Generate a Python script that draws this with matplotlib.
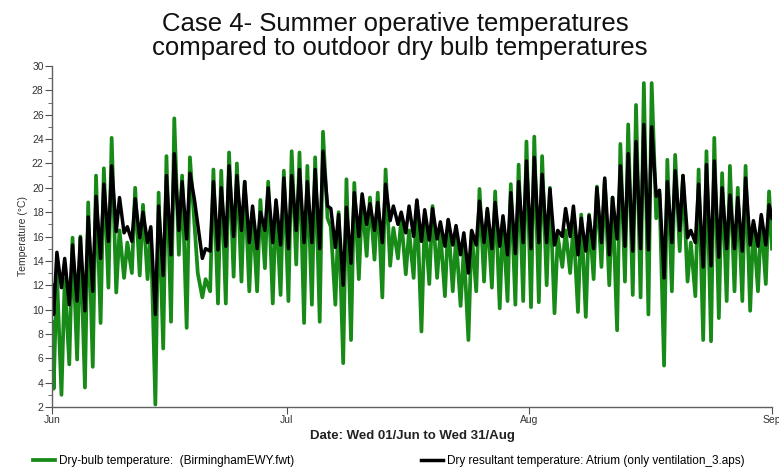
import numpy as np
import matplotlib.pyplot as plt

plt.rcParams['font.family'] = ['Liberation Sans', 'DejaVu Sans']

# daily extremes, 1 Jun .. 31 Aug (92 days)
green_max = [13.0, 12.5, 15.9, 16.0, 18.8, 21.0, 21.6, 24.1, 16.5, 15.5, 20.0, 18.6, 16.5, 19.6, 22.6, 25.7,
             21.0, 22.5, 13.0, 12.5, 21.5, 21.4, 22.9, 22.0, 20.5, 18.0, 19.0, 20.5, 18.8, 21.4, 23.0,
             22.9, 21.8, 22.5, 24.6, 16.8, 18.0, 20.7, 20.4, 19.0, 19.2, 19.6, 21.5, 16.7, 17.5, 16.5,
             18.9, 17.5, 18.5, 16.4, 17.3, 15.9, 15.1, 16.4, 19.9, 18.1, 19.7, 17.5, 20.3, 21.9, 23.8,
             24.2, 22.6, 20.0, 16.0, 16.5, 17.0, 17.8, 17.8, 20.1, 20.6, 19.2, 23.6, 25.2, 26.8, 28.6, 28.6,
             19.5, 22.3, 22.7, 21.0, 15.5, 21.5, 23.0, 24.1, 21.2, 21.8, 20.0, 21.8, 17.0, 17.5, 19.7]
green_min = [3.5, 3.0, 5.5, 5.9, 3.6, 5.3, 8.9, 11.8, 11.4, 12.6, 13.0, 12.8, 12.5, 2.2, 6.8, 9.0,
             14.5, 8.5, 17.0, 11.0, 11.5, 10.5, 10.5, 12.7, 12.3, 11.5, 11.5, 13.4, 10.5, 11.2, 10.7,
             13.7, 8.9, 10.4, 9.0, 17.5, 10.4, 5.6, 7.5, 12.5, 14.4, 14.1, 11.0, 13.6, 14.2, 12.9,
             12.6, 8.2, 12.1, 12.6, 11.1, 11.5, 10.3, 7.5, 11.5, 12.3, 11.8, 10.1, 10.7, 10.4, 10.7,
             10.2, 10.6, 12.0, 9.7, 13.5, 13.0, 9.8, 9.4, 12.5, 13.5, 12.0, 8.3, 12.3, 11.2, 11.0, 9.6,
             17.5, 5.4, 11.5, 14.8, 12.3, 11.1, 7.5, 7.4, 9.3, 10.7, 11.5, 10.7, 9.9, 11.5, 12.1]
black_max = [14.7, 14.2, 15.3, 15.9, 17.6, 19.3, 20.3, 21.8, 19.2, 16.8, 19.1, 18.0, 16.8, 18.5, 21.0, 22.8,
             20.5, 21.2, 17.0, 15.0, 20.5, 20.0, 21.8, 21.0, 20.5, 18.5, 18.0, 20.0, 19.0, 20.8, 21.0,
             21.5, 20.5, 21.5, 23.0, 18.3, 17.8, 18.4, 19.6, 19.5, 18.7, 18.8, 20.3, 18.5, 18.0, 18.5,
             19.0, 18.2, 18.3, 17.2, 17.4, 16.9, 16.3, 16.5, 18.9, 18.3, 18.8, 17.7, 19.6, 20.5, 22.2,
             22.5, 21.1, 19.9, 16.5, 18.3, 18.5, 17.5, 17.7, 20.0, 20.8, 19.2, 21.8, 22.8, 23.8, 25.2, 25.0,
             19.8, 20.5, 21.4, 21.0, 16.5, 20.3, 21.9, 22.2, 20.0, 19.4, 19.2, 20.8, 17.3, 17.8, 18.6]
black_min = [9.6, 11.8, 10.4, 10.7, 9.9, 11.5, 14.2, 15.6, 16.4, 16.3, 15.6, 15.9, 15.5, 9.6, 12.8, 14.5,
             16.5, 15.8, 19.0, 14.2, 14.8, 14.9, 15.2, 16.0, 16.5, 15.5, 15.0, 16.5, 15.5, 15.3, 15.0,
             16.5, 15.5, 15.5, 15.0, 18.5, 15.1, 12.0, 13.8, 16.0, 17.0, 16.5, 15.5, 17.3, 17.0, 16.3,
             16.0, 15.6, 15.7, 15.8, 15.2, 15.3, 14.5, 13.0, 15.3, 15.5, 15.0, 15.2, 14.5, 14.6, 15.5,
             15.0, 15.5, 15.5, 15.3, 16.0, 16.0, 14.5, 14.8, 15.0, 15.5, 14.5, 15.8, 15.2, 14.8, 15.0, 14.9,
             19.3, 12.6, 15.5, 16.5, 15.9, 15.5, 13.5, 13.6, 14.3, 15.0, 15.0, 14.8, 15.3, 15.2, 15.3]
# values at midnight 1 Jun and midnight 1 Sep
green_ends = [9.0, 15.0]
black_ends = [12.0, 17.5]

month_days = [0, 30, 61, 92]
month_names = ['Jun', 'Jul', 'Aug', 'Sep']

# lowest reading around 5am, highest around 3pm
n = len(green_max)
t = np.concatenate([[0], np.ravel(np.column_stack([np.arange(n) + 5 / 24, np.arange(n) + 15 / 24])), [n]])

def series(lo, hi, ends):
    return np.concatenate([[ends[0]], np.ravel(np.column_stack([lo, hi])), [ends[1]]])

green = series(green_min, green_max, green_ends)
black = series(black_min, black_max, black_ends)

fig = plt.figure(figsize=(7.79, 4.68), dpi=100)
ax = fig.add_axes([52 / 779, 1 - 407 / 468, 720 / 779, 341 / 468])

g, = ax.plot(t, green, color='#178a17', lw=2.7, solid_joinstyle='round')
b, = ax.plot(t, black, color='black', lw=2.5, solid_joinstyle='round')

ax.set_xlim(0, 92)
ax.set_ylim(2, 30)
ax.set_xticks(month_days)
ax.set_xticklabels(month_names)
ax.set_yticks(np.arange(2, 31, 2))
ax.set_yticks(np.arange(2, 31, 1), minor=True)
ax.tick_params(axis='both', which='major', labelsize=7.5, length=5, width=0.8,
               color='#505050', labelcolor='#333333', pad=1)
ax.tick_params(axis='y', which='minor', length=3, width=0.6, color='#505050')

for side in ['top', 'right']:
    ax.spines[side].set_visible(False)
for side in ['left', 'bottom']:
    ax.spines[side].set_color('#606060')
    ax.spines[side].set_linewidth(1.0)

ax.set_ylabel('Temperature (°C)', fontsize=7.5, color='#333333', labelpad=3)
ax.set_xlabel('Date: Wed 01/Jun to Wed 31/Aug', fontsize=9.5, fontweight='bold',
              color='#222222', labelpad=3)

fig.text(395 / 779, 1 - 31 / 468, 'Case 4- Summer operative temperatures',
         fontsize=18.5, ha='center', va='baseline', color='#111111')
fig.text(400 / 779, 1 - 55 / 468, 'compared to outdoor dry bulb temperatures',
         fontsize=18.5, ha='center', va='baseline', color='#111111')

fig.legend(handles=[g], labels=['Dry-bulb temperature:  (BirminghamEWY.fwt)'],
           loc='center left', bbox_to_anchor=(28 / 779, 1 - 461 / 468), frameon=False,
           fontsize=8.5, handlelength=1.9, handletextpad=0.3, borderaxespad=0)
fig.legend(handles=[b], labels=['Dry resultant temperature: Atrium (only ventilation_3.aps)'],
           loc='center left', bbox_to_anchor=(416 / 779, 1 - 461 / 468), frameon=False,
           fontsize=8.5, handlelength=1.9, handletextpad=0.3, borderaxespad=0)

fig.savefig('out.png', dpi=100)
